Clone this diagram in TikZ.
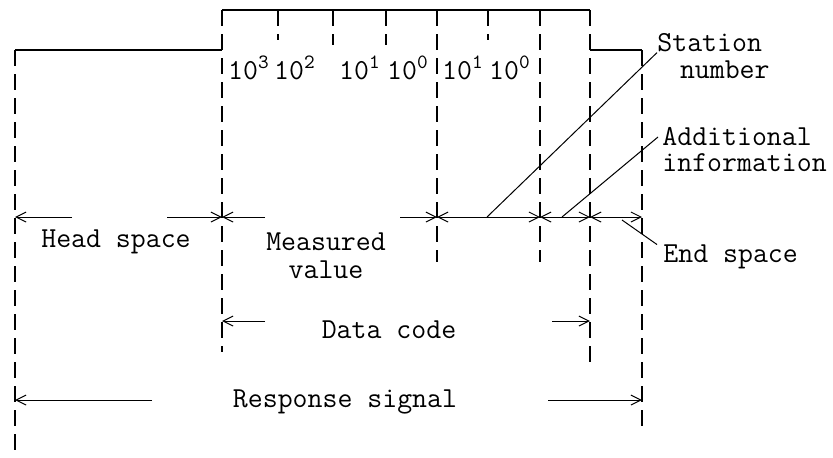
\documentclass[tikz,border=0pt]{standalone}
\usepackage{tikz}
\usetikzlibrary{arrows.meta,positioning}

\tikzset{
  guide/.style={line width=0.9pt, dash pattern=on 8pt off 4pt},
  frame/.style={line width=1pt},
  dim/.style={line width=0.5pt, -{Straight Barb[length=5pt,width=5pt]}},
  both/.style={line width=0.5pt, {Straight Barb[length=5pt,width=5pt]}-{Straight Barb[length=5pt,width=5pt]}},
  lead/.style={line width=0.5pt},
  lbl/.style={inner sep=0pt, font=\ttfamily\fontsize{14.5}{14}\selectfont},
}
\newcommand{\tenp}[1]{10\textsuperscript{#1}}

\begin{document}
\begin{tikzpicture}[x=0.5pt, y=-0.5pt]
  \useasboundingbox (0,0) rectangle (833,457);

  % Khung trên của các phần tín hiệu
  \draw[frame] (15,50) -- (222,50);
  \draw[frame] (222,10) -- (590,10);
  \draw[frame] (590,50) -- (642,50);

  % Các đường phân cách nét đứt
  \foreach \x/\t/\b in {15/50/457, 222/10/352, 278/10/40, 333/10/45, 386/10/45, 437/10/262, 488/10/40, 540/10/262, 590/10/367, 642/50/433} {
    \draw[guide] (\x,\t) -- (\x,\b);
  }

  % Các hàng chữ số
  \foreach \n/\x/\p in {p3/249/3, p2/295/2, p1/360/1, p0/408/0, q1/463/1, q0/510/0} {
    \node[lbl, anchor=base] (\n) at (\x,79) {\tenp{\p}};
  }

  % Điểm mốc trên các đường kích thước
  \foreach \n/\x/\y in {h0/15/217, h1/72/217, h2/167/217, m0/222/217, m1/265/217, m2/400/217,
      s0/437/217, a0/540/217, e0/590/217, e1/642/217,
      d0/222/321, d1/265/321, d2/552/321, d3/590/321,
      r0/15/400, r1/152/400, r2/548/400, r3/642/400,
      sl/487/217, al/562/217, el/622/220} {
    \coordinate (\n) at (\x,\y);
  }

  % Mũi tên kích thước
  \draw[dim] (h1) -- (h0);
  \draw[dim] (h2) -- (m0);
  \draw[dim] (m1) -- (m0);
  \draw[dim] (m2) -- (s0);
  \draw[both] (s0) -- (a0);
  \draw[both] (a0) -- (e0);
  \draw[both] (e0) -- (e1);
  \draw[dim] (d1) -- (d0);
  \draw[dim] (d2) -- (d3);
  \draw[dim] (r1) -- (r0);
  \draw[dim] (r2) -- (r3);

  % Nhãn
  \node[lbl] (head) at (116,242) {Head space};
  \node[lbl, align=center] (meas) at (326,256) {Measured\\value};
  \node[lbl] (data) at (389,330) {Data code};
  \node[lbl] (resp) at (345,402) {Response signal};
  \node[lbl, anchor=west] (stn) at (657,43) {Station};
  \node[lbl, anchor=east] (stnb) at (770,70) {number};
  \node[lbl, anchor=west] (addi) at (662,137) {Additional};
  \node[lbl, anchor=west] (info) at (662,163) {information};
  \node[lbl, anchor=west] (endsp) at (663,257) {End space};

  % Đường dẫn tới nhãn
  \draw[lead] (sl) -- (stn.south west);
  \draw[lead] (al) -- ([xshift=-2pt]addi.west);
  \draw[lead] (el) -- ([xshift=-3pt]endsp.north west);
\end{tikzpicture}
\end{document}
